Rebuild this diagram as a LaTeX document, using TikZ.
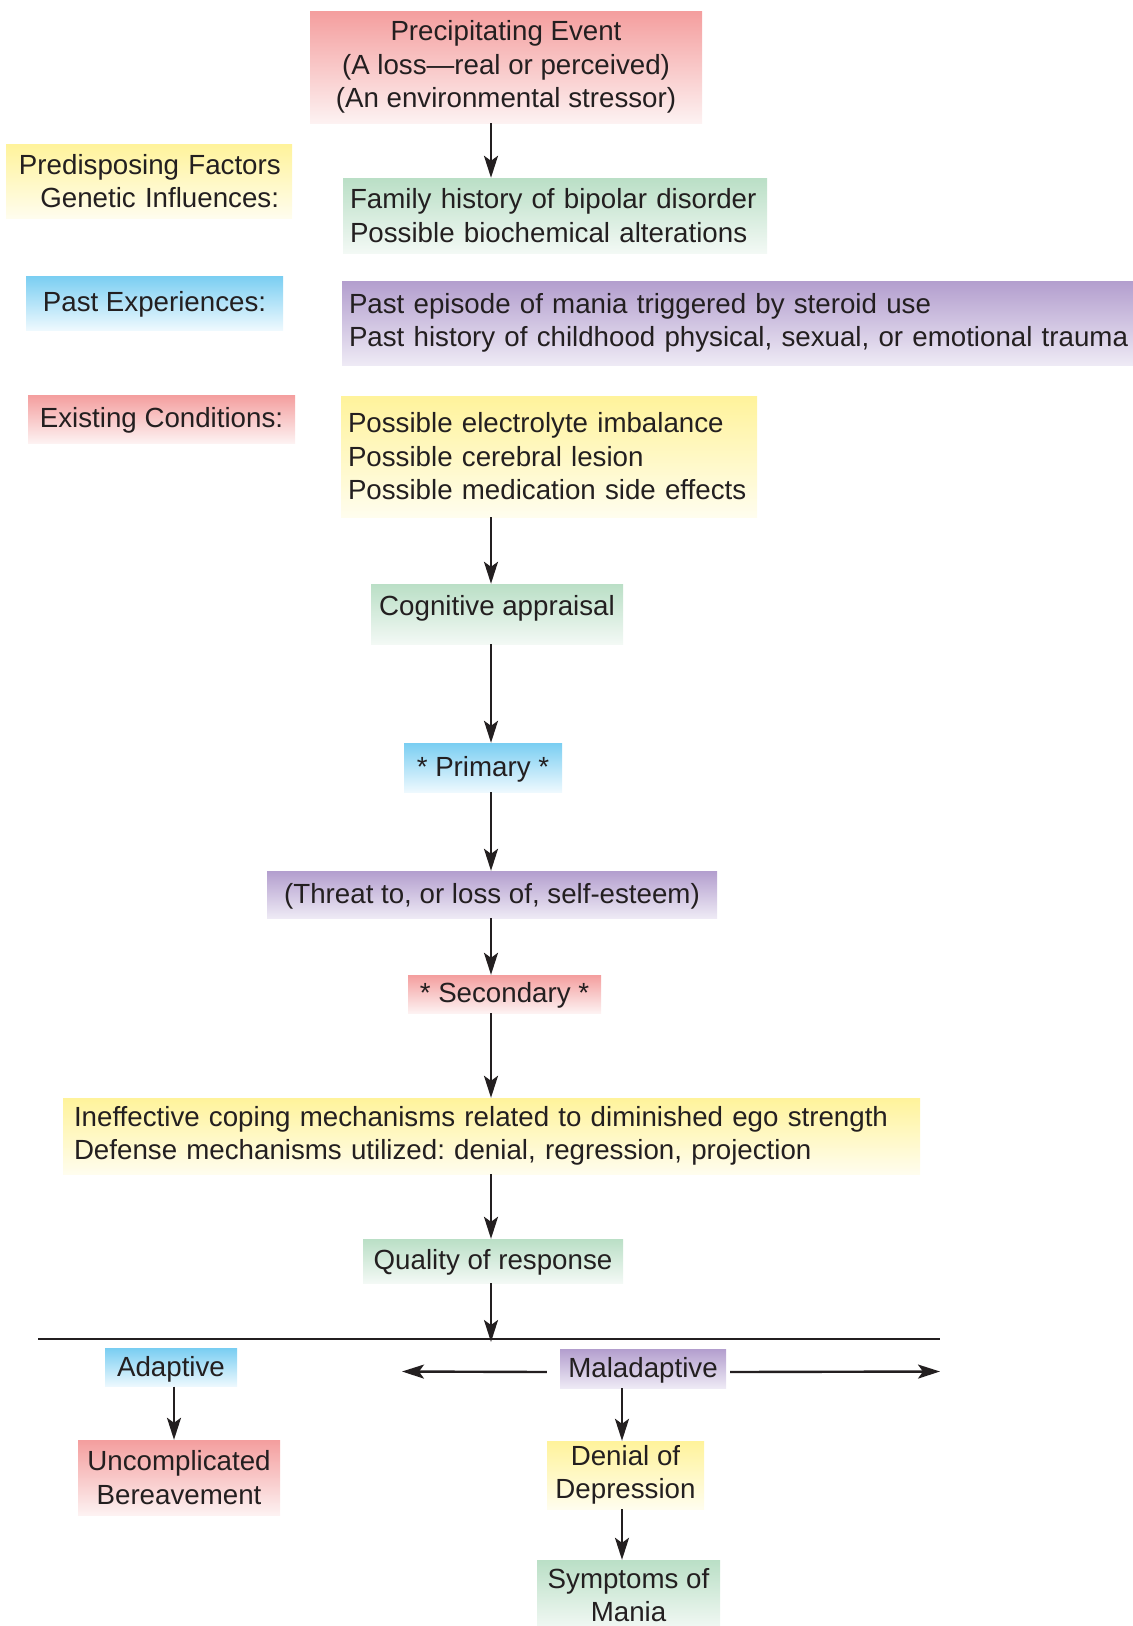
\documentclass[tikz,border=0pt]{standalone}
\usepackage{fontspec}
\setmainfont{Liberation Sans}
\usetikzlibrary{arrows.meta}
\frenchspacing
\definecolor{ink}{RGB}{35,31,32}
\definecolor{redT}{RGB}{244,158,158}
\definecolor{redB}{RGB}{253,242,242}
\definecolor{yelT}{RGB}{255,243,155}
\definecolor{yelB}{RGB}{255,253,238}
\definecolor{grnT}{RGB}{186,223,198}
\definecolor{grnB}{RGB}{243,249,245}
\definecolor{bluT}{RGB}{122,206,242}
\definecolor{bluB}{RGB}{238,249,254}
\definecolor{purT}{RGB}{179,158,206}
\definecolor{purB}{RGB}{238,234,245}
\newcommand\keepline[1]{\mbox{#1}}
\begin{document}
\begin{tikzpicture}[x=1pt,y=-1pt,
  box/.style={inner sep=0pt, font=\fontsize{27.7}{33.5}\selectfont, text=ink, align=center},
  one/.style={text height=21pt, text depth=4pt},
  redbox/.style={box, top color=redT, bottom color=redB},
  yelbox/.style={box, top color=yelT, bottom color=yelB},
  grnbox/.style={box, top color=grnT, bottom color=grnB},
  blubox/.style={box, top color=bluT, bottom color=bluB},
  purbox/.style={box, top color=purT, bottom color=purB},
  arr/.style={draw=ink, line width=2.4pt, -{Stealth[length=22pt,width=14pt,inset=5pt]}},
  rule/.style={draw=ink, line width=2.8pt}
]
\useasboundingbox (0,0) rectangle (1133,1626);

% main column
\node[redbox, minimum width=392pt, minimum height=112pt] (pe) at (506,67)
  {Precipitating Event\\(A loss---real or perceived)\\(An environmental stressor)};
\node[grnbox, align=left, text width=410pt, minimum width=424pt, minimum height=75pt] (fh) at (555,215.5)
  {\keepline{Family history of bipolar disorder}\\\keepline{Possible biochemical alterations}};
\node[purbox, align=left, text width=777pt, minimum width=791pt, minimum height=84pt] (pu) at (737.5,323)
  {\keepline{Past episode of mania triggered by steroid use}\\\keepline{Past history of childhood physical, sexual, or emotional trauma}};
\node[yelbox, align=left, text width=402pt, minimum width=416pt, minimum height=121pt] (ye) at (549,456.5)
  {\keepline{Possible electrolyte imbalance}\\\keepline{Possible cerebral lesion}\\\keepline{Possible medication side effects}};
\node[grnbox, text height=24pt, text depth=22pt, minimum width=252pt, minimum height=60pt] (ca) at (497,614)
  {Cognitive appraisal};
\node[blubox, one, minimum width=158pt, minimum height=49pt] (pr) at (483,767.5) {* Primary *};
\node[purbox, one, minimum width=450pt, minimum height=47pt] (th) at (492,894.5)
  {(Threat to, or loss of, self-esteem)};
\node[redbox, one, minimum width=193pt, minimum height=38pt] (se) at (504.5,994) {* Secondary *};
\node[yelbox, align=left, text width=835pt, minimum width=857pt, minimum height=76pt] (in) at (491.5,1136)
  {\keepline{Ineffective coping mechanisms related to diminished ego strength}\\\keepline{Defense mechanisms utilized: denial, regression, projection}};
\node[grnbox, one, minimum width=260pt, minimum height=44pt] (qr) at (493,1261) {Quality of response};

% left column labels
\node[yelbox, align=right, text width=260pt, minimum width=286pt, minimum height=74pt] (pf) at (149,181)
  {\keepline{Predisposing Factors}\\\keepline{Genetic Influences:}};
\node[blubox, one, minimum width=257pt, minimum height=54pt] (px) at (154.5,303) {Past Experiences:};
\node[redbox, one, minimum width=267pt, minimum height=48pt] (ec) at (161.5,419) {Existing Conditions:};

% outcomes
\node[blubox, one, minimum width=132pt, minimum height=38pt] (ad) at (171,1367.5) {Adaptive};
\node[purbox, one, minimum width=166pt, minimum height=39pt] (ma) at (643,1368.5) {Maladaptive};
\node[redbox, minimum width=202pt, minimum height=75pt] (un) at (179,1477.5) {Uncomplicated\\Bereavement};
\node[yelbox, minimum width=157pt, minimum height=68pt] (de) at (625.5,1475) {Denial of\\Depression};
\node[grnbox, minimum width=183pt, minimum height=70pt] (sy) at (628.5,1595) {Symptoms of\\Mania};

% guide coordinates
\coordinate (spine) at (491,0);
\coordinate (hl) at (38,1339);
\coordinate (hr) at (940,1339);
\coordinate (lend) at (402,1371.5);
\coordinate (rend) at (940,1371.5);
\coordinate (ax) at (174,0);
\coordinate (mx) at (622,0);

% connectors
\draw[arr] (pe.south -| spine) -- (fh.north -| spine);
\draw[arr] (ye.south -| spine) -- (ca.north -| spine);
\draw[arr] (ca.south -| spine) -- (pr.north -| spine);
\draw[arr] (pr.south -| spine) -- (th.north -| spine);
\draw[arr] (th.south -| spine) -- (se.north -| spine);
\draw[arr] (se.south -| spine) -- (in.north -| spine);
\draw[arr] (in.south -| spine) -- (qr.north -| spine);
\draw[arr] (qr.south -| spine) -- ([yshift=-3pt]spine |- hl);
\draw[rule] (hl) -- (hr);
\draw[arr] ([shift={(-13,3.5)}]ma.west) -- (lend);
\draw[arr] ([shift={(4,3.5)}]ma.east) -- (rend);
\draw[arr] (ad.south -| ax) -- (un.north -| ax);
\draw[arr] (ma.south -| mx) -- (de.north -| mx);
\draw[arr] (de.south -| mx) -- (sy.north -| mx);
\end{tikzpicture}
\end{document}
